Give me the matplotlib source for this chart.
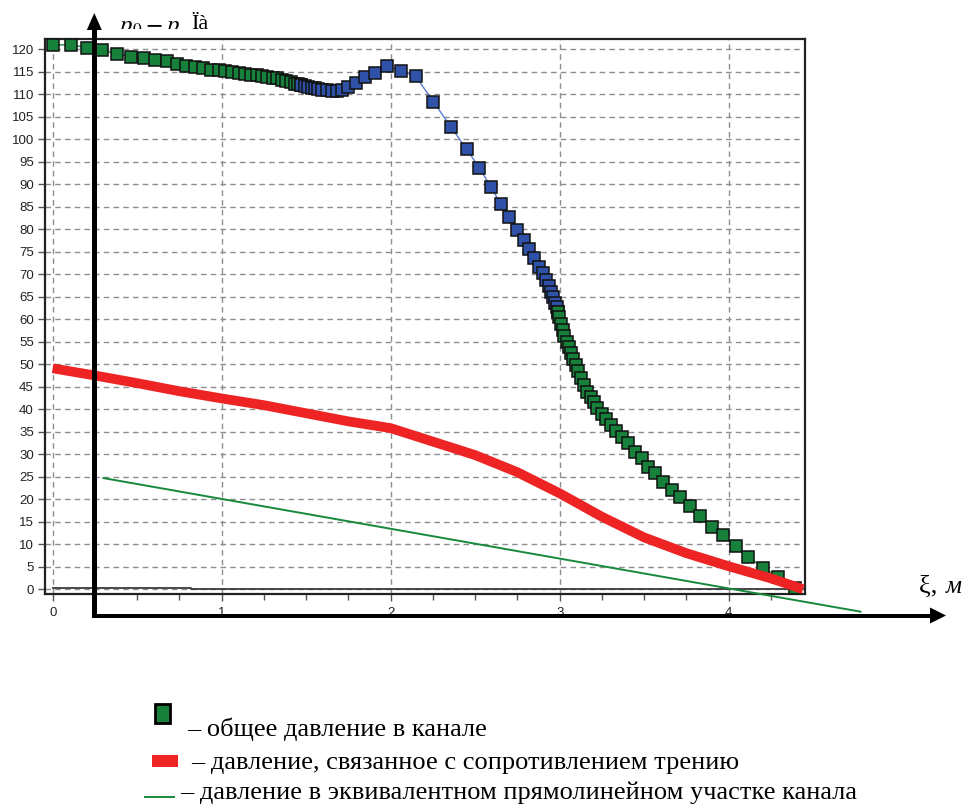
import matplotlib
matplotlib.use("Agg")
import matplotlib.pyplot as plt
from matplotlib.patches import Rectangle, Polygon
from matplotlib.lines import Line2D
from matplotlib.transforms import Bbox, TransformedBbox
import numpy as np

# ---------------- data ----------------
# total pressure in channel, first (green) part
xi_green1 = [0.0, 0.107, 0.201, 0.292, 0.379, 0.462, 0.540, 0.607, 0.675, 0.734,
             0.789, 0.840, 0.888, 0.935, 0.982, 1.021, 1.061, 1.101, 1.136, 1.172,
             1.207, 1.238, 1.270, 1.302, 1.329, 1.357, 1.383, 1.410, 1.434, 1.454, 1.472]
p_green1 = [121.0, 121.0, 120.4, 119.8, 119.0, 118.4, 118.0, 117.7, 117.4, 116.8,
            116.4, 116.1, 115.9, 115.5, 115.3, 115.2, 114.9, 114.7, 114.6, 114.4,
            114.3, 114.0, 113.8, 113.7, 113.6, 113.2, 112.9, 112.7, 112.4, 112.2, 112.0]
# total pressure, middle (blue) part
xi_blue = [1.472, 1.493, 1.512, 1.533, 1.552, 1.572, 1.595, 1.621, 1.651, 1.680,
           1.710, 1.749, 1.795, 1.848, 1.907, 1.980, 2.059, 2.148, 2.252, 2.355,
           2.450, 2.525, 2.592, 2.651, 2.702, 2.746, 2.789, 2.820, 2.848, 2.880,
           2.899, 2.919, 2.938, 2.948, 2.962, 2.972, 2.982, 2.990]
p_blue = [112.0, 111.8, 111.7, 111.5, 111.3, 111.2, 111.0, 110.9, 110.8, 110.8,
          111.0, 111.6, 112.6, 113.8, 114.8, 116.3, 115.2, 114.0, 108.4, 102.8,
          97.8, 93.6, 89.5, 85.6, 82.8, 79.8, 77.6, 75.6, 73.6, 71.7,
          70.2, 68.7, 67.4, 66.1, 64.9, 63.7, 62.7, 61.6]
# total pressure, last (green) part
xi_green2 = [2.990, 2.998, 3.006, 3.018, 3.027, 3.041, 3.055, 3.067, 3.080, 3.096,
             3.110, 3.126, 3.144, 3.160, 3.183, 3.203, 3.222, 3.249, 3.274, 3.302,
             3.333, 3.367, 3.406, 3.446, 3.485, 3.524, 3.564, 3.613, 3.663, 3.712,
             3.771, 3.830, 3.899, 3.964, 4.043, 4.116, 4.205, 4.293, 4.392]
p_green2 = [61.6, 60.4, 59.0, 57.6, 56.3, 55.0, 53.8, 52.4, 51.1, 49.8,
            48.4, 46.9, 45.4, 43.9, 42.8, 41.5, 40.2, 39.0, 37.8, 36.5,
            35.2, 33.9, 32.4, 30.6, 29.1, 27.2, 25.8, 23.9, 22.1, 20.4,
            18.5, 16.3, 13.9, 12.1, 9.5, 7.2, 4.7, 2.7, 0.2]
# friction pressure
xi_fric = [0.0, 0.25, 0.5, 0.75, 1.0, 1.25, 1.5, 1.75, 2.0, 2.25, 2.5, 2.75,
           3.0, 3.25, 3.5, 3.75, 4.0, 4.25, 4.44]
p_fric = [49.1, 47.5, 45.8, 44.0, 42.4, 40.9, 39.1, 37.3, 35.8, 32.8, 29.8, 26.0,
          21.3, 16.1, 11.5, 8.0, 5.1, 2.4, 0.0]
# equivalent straight channel (overlay line)
xi_equiv = [0.30, 4.78]
p_equiv = [24.7, -5.0]
# base (near zero) series
xi_base = [0.0, 0.82, 0.82, 4.44]
p_base = [0.22, 0.22, 0.0, 0.0]

x_ticks = [0, 1, 2, 3, 4]
y_ticks = list(range(0, 121, 5))
legend_labels = ["– общее давление в канале",
                 "– давление, связанное с сопротивлением трению",
                 "– давление в эквивалентном прямолинейном участке канала"]
y_label_sym = r"$p_0 - p,$"
y_label_unit = "Ïà"
x_label_sym = "ξ, "
x_label_unit = "м"

# ---------------- figure ----------------
W, H = 971, 805
fig = plt.figure(figsize=(W / 100, H / 100), dpi=100)


def fx(px):
    return px / W


def fy(py):
    return 1 - py / H


ax_l, ax_r, ax_t, ax_b = 45, 805, 39, 594
ax = fig.add_axes([fx(ax_l), fy(ax_b), (ax_r - ax_l) / W, (ax_b - ax_t) / H])
ax.set_xlim(-0.0456, 4.4515)
ax.set_ylim(-1.07, 122.3)

GREEN = "#17803a"
BLUE = "#2f52a8"
RED = "#ee2424"

ax.set_xticks(x_ticks)
ax.set_xticks(np.arange(0, 4.5, 0.25), minor=True)
ax.set_yticks(y_ticks)
ax.grid(True, which="major", color="#8e8e8e", linestyle=(0, (4, 3)), linewidth=1.0)
ax.tick_params(axis="both", which="both", direction="out", color="#555555",
               labelsize=9.5, labelcolor="#222222")
ax.tick_params(axis="y", length=5, width=1, pad=3)
ax.tick_params(axis="x", which="major", length=5, width=1, pad=4)
ax.tick_params(axis="x", which="minor", length=4, width=1)
for lab in ax.get_xticklabels() + ax.get_yticklabels():
    lab.set_family("Liberation Sans")
for s in ax.spines.values():
    s.set_linewidth(1.6)
    s.set_color("#222222")

ms = 8.6
ax.plot(xi_base, p_base, color="#3a3a3a", lw=1.3, zorder=3)
ax.plot(xi_green1, p_green1, color=GREEN, lw=1.0, marker="s", ms=ms,
        mfc=GREEN, mec="#111111", mew=1.1, zorder=4, clip_on=False)
ax.plot(xi_blue, p_blue, color="#5a7fd0", lw=1.0, marker="s", ms=ms,
        mfc=BLUE, mec="#111111", mew=1.1, zorder=4, clip_on=False)
ax.plot(xi_green2, p_green2, color=GREEN, lw=1.0, marker="s", ms=ms,
        mfc=GREEN, mec="#111111", mew=1.1, zorder=4, clip_on=False)
ax.plot(xi_fric, p_fric, color=RED, lw=7.0, solid_capstyle="butt",
        solid_joinstyle="round", zorder=5)
ax.plot(xi_equiv, p_equiv, color="#168a3a", lw=1.4, zorder=6, clip_on=False)

# ---------------- overlay arrows ----------------
def add_poly(pts, color="black"):
    fig.add_artist(Polygon([(fx(x), fy(y)) for x, y in pts], closed=True,
                           facecolor=color, edgecolor="none", zorder=20))

# vertical arrow
add_poly([(91.8, 617.5), (96.8, 617.5), (96.8, 29), (91.8, 29)])
add_poly([(86.8, 30), (101.8, 30), (94.3, 13)])
# horizontal arrow
add_poly([(92, 613.5), (931, 613.5), (931, 617.5), (92, 617.5)])
add_poly([(930, 607.5), (930, 623.5), (946, 615.5)])

# y label (bottom of the p's clipped as in original)
t1 = fig.text(fx(118), fy(32), y_label_sym, fontsize=18, family="Liberation Serif",
              math_fontfamily="stix", ha="left", va="baseline", zorder=21)
clip = TransformedBbox(Bbox.from_extents(0, fy(29.5), 1, 1), fig.transFigure)
t1.set_clip_box(clip)
t1.set_clip_on(True)
fig.text(fx(191), fy(29), y_label_unit, fontsize=16, family="Liberation Serif",
         ha="left", va="baseline", zorder=21)

# x label
fig.text(fx(919), fy(593), x_label_sym, fontsize=19, family="Liberation Serif",
         ha="left", va="baseline")
fig.text(fx(946), fy(593), x_label_unit, fontsize=18, family="Liberation Serif",
         style="italic", ha="left", va="baseline")

# ---------------- legend ----------------
fig.add_artist(Rectangle((fx(155), fy(722.5)), 15 / W, 19 / H, facecolor=GREEN,
                         edgecolor="black", linewidth=2.0))
fig.text(fx(187), fy(736), legend_labels[0], fontsize=19, family="Liberation Serif",
         ha="left", va="baseline")
fig.add_artist(Rectangle((fx(151.5), fy(766.7)), 26 / W, 11.7 / H, facecolor=RED,
                         edgecolor="none"))
fig.text(fx(191.5), fy(768.5), legend_labels[1], fontsize=19, family="Liberation Serif",
         ha="left", va="baseline")
fig.add_artist(Line2D([fx(145), fx(173.5)], [fy(796.8), fy(796.8)], color="#168a3a", lw=1.4))
fig.text(fx(180), fy(799), legend_labels[2], fontsize=19, family="Liberation Serif",
         ha="left", va="baseline")

fig.savefig("out.png", dpi=100)
